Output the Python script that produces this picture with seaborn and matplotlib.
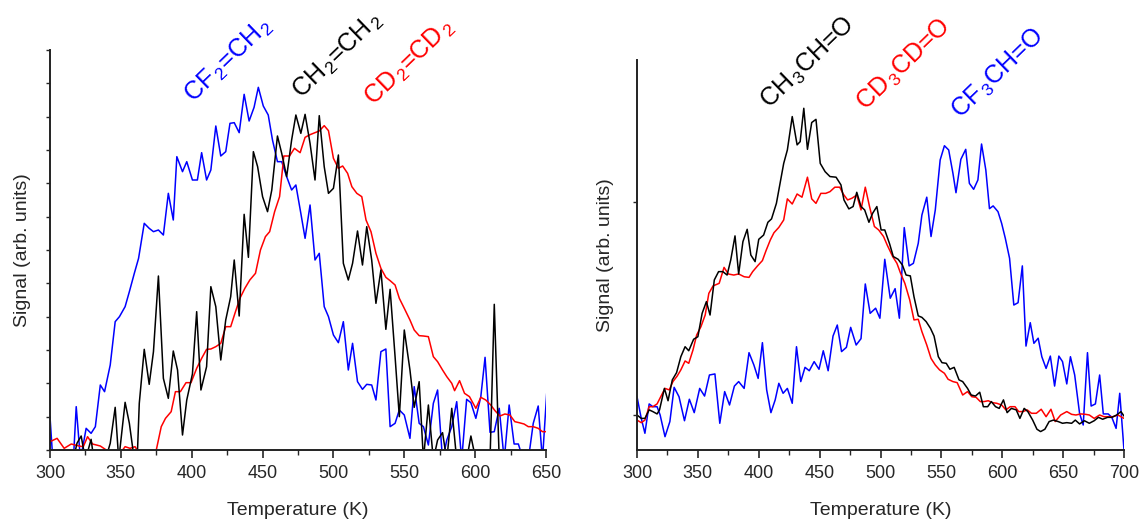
import numpy as np
import pandas as pd
import matplotlib
matplotlib.use("Agg")
import matplotlib.pyplot as plt
from matplotlib.ticker import MultipleLocator
import seaborn as sns

# ---------------- Left panel data ----------------
t_cf2 = [300, 302, 316.5, 318.5, 321.5, 325.5, 329, 332, 335.5, 338.5, 342.5, 346, 349, 353, 356, 359.5,
         362.5, 366.5, 370, 373, 376.5, 380, 383.5, 387, 389.5, 393.5, 396.5, 400.5, 404, 407, 410.5, 413.5,
         417, 420.5, 424, 427, 430, 433.5, 437, 440.5, 444, 447, 450.5, 454, 457, 460.5, 463.5, 467, 470.5,
         473.5, 477, 480, 483.5, 487, 490, 493.5, 496.5, 500, 503.5, 507, 510.5, 513.5, 517, 520.5, 523.5,
         527, 530, 533.5, 537, 540, 543.5, 546.5, 550, 554, 557, 560.5, 563.5, 567, 570.5, 573.5, 577, 580,
         583.5, 587, 590.5, 594, 597, 600.5, 604, 607, 610.5, 613.5, 617, 620.5, 624, 627.5, 630.5, 634,
         637.5, 641, 644.5, 647.5, 650.5]
s_cf2 = [1.0, -0.3, -0.3, 1.3, -0.3, 0.65, 0.5, 0.7, 1.95, 1.75, 2.55, 3.85, 4.0, 4.3, 4.75, 5.3,
         5.75, 6.8, 6.65, 6.55, 6.6, 6.45, 7.7, 6.9, 8.8, 8.35, 8.65, 8.1, 8.1, 8.92, 8.1, 8.4,
         9.72, 8.82, 8.95, 9.8, 9.82, 9.52, 10.67, 9.87, 10.28, 10.88, 10.32, 10.05, 9.3, 8.65, 8.65, 8.2, 7.8,
         7.95, 7.1, 6.35, 7.35, 5.7, 5.9, 4.3, 4.0, 3.45, 3.22, 3.85, 2.4, 3.2, 2.05, 1.82, 1.97,
         1.95, 1.5, 2.95, 3.03, 0.7, 0.8, 1.2, 1.05, 0.35, 1.9, 0.8, 0.7, 0.15, 1.4, 1.8, -0.3, 0.3,
         0.7, 1.45, -0.3, 1.52, 1.42, 0.95, 1.6, 2.78, 0.53, 0.55, 1.25, -0.3, 1.35, 0.18, 0.18, -0.3,
         -0.3, 0.8, 1.32, -0.3, 1.7]

t_ch2 = [300, 310, 316.5, 319, 322, 325, 329, 331, 335.5, 339, 342.5, 346, 348.5, 353, 356, 359.5, 361.5,
         363, 366.5, 370, 373, 376.5, 380, 383.5, 387, 390, 393.5, 396.5, 400.5, 403.5, 406.5, 410.5, 413.5,
         417, 420.5, 424, 427.5, 430, 433.5, 437, 440, 443.5, 446.5, 450, 453.5, 456.5, 460.5, 463.5, 467,
         470.5, 473.5, 477, 480, 483.5, 487, 490, 493.5, 496.5, 500, 503.5, 507, 510.5, 513.5, 517, 520.5,
         523.5, 527, 530, 533.5, 537, 540, 543.5, 546.5, 550, 554, 557, 560.5, 563.5, 567, 570.5, 573.5,
         577, 580, 583.5, 587, 590.5, 594, 597, 600.5, 604, 607, 610.5, 613.5, 617, 620.5, 630, 640, 650.5]
s_ch2 = [-0.3, -0.3, -0.3, 0.2, 0.42, -0.3, 0.32, -0.3, -0.3, -0.3, 0.2, 1.28, -0.3, 1.43, 0.8, -0.3, -0.3,
         1.4, 3.02, 1.97, 2.95, 5.22, 2.15, 1.55, 2.97, 2.4, 0.45, 1.5, 2.28, 4.15, 1.8, 2.5, 4.9,
         4.3, 2.7, 3.9, 4.6, 5.7, 4.02, 7.07, 5.78, 8.95, 8.5, 7.6, 7.15, 7.8, 9.42, 8.9, 8.2,
         9.3, 10.05, 9.5, 10.07, 9.2, 8.1, 10.03, 8.5, 7.7, 7.85, 8.85, 5.6, 5.1, 5.6, 6.57, 5.55,
         6.7, 5.7, 4.4, 5.4, 3.62, 4.82, 2.8, 1.0, 3.6, 2.4, 1.28, 2.05, -0.3, 1.35, -0.3, 0.3,
         0.52, -0.3, 1.25, -0.3, -0.3, -0.3, 0.42, -0.3, -0.3, -0.3, -0.3, 4.37, -0.3, -0.3, -0.3, -0.3, -0.3]

t_cd2 = [300, 305, 310, 315, 320.5, 323.5, 326.5, 330, 335.5, 339, 342.5, 349.5, 353, 356.5, 360, 363,
         374.5, 378.5, 381.5, 385.5, 388.5, 392, 396, 399.5, 403.5, 407, 410.5, 413.5, 417, 420.5, 424,
         427.5, 430.5, 434, 437.5, 441, 445, 448.5, 452, 455, 458.5, 462, 463.5, 465, 469, 472.5, 476.5,
         480, 483.5, 487, 490, 493.5, 496.5, 500, 503.5, 506.5, 510, 513, 516.5, 520, 523, 526.5, 530,
         533.5, 537, 540, 543.5, 546.5, 550, 554, 557, 560.5, 563.5, 567, 570.5, 573.5, 577, 580, 583.5,
         585.5, 589, 592.5, 596, 600.5, 604, 607.5, 611, 614, 617.5, 621, 624.5, 628, 631, 634.5, 637.5,
         641, 644.5, 647.5, 650.5]
s_cd2 = [0.25, 0.35, 0.05, 0.18, 0.12, 0.1, 0.4, 0.18, 0.12, 0.02, -0.1, -0.1, 0.1, 0.05, 0.1, -0.1,
         -0.1, 0.7, 0.95, 1.15, 1.75, 1.75, 2.02, 2.02, 2.45, 2.75, 3.02, 3.03, 3.1, 3.2, 3.7,
         3.7, 4.1, 4.55, 4.85, 5.1, 5.3, 6.0, 6.4, 6.55, 7.15, 7.6, 8.2, 8.82, 8.82, 9.05, 8.92,
         9.38, 9.46, 9.52, 9.57, 9.73, 9.58, 8.75, 8.45, 8.52, 8.3, 7.9, 7.7, 7.6, 6.9, 6.55, 5.9,
         5.45, 5.18, 5.08, 4.95, 4.55, 4.25, 3.9, 3.6, 3.43, 3.42, 3.4, 2.8, 2.65, 2.4, 2.2, 2.0,
         1.78, 2.08, 1.7, 1.6, 1.25, 1.58, 1.5, 1.35, 1.18, 1.02, 1.08, 1.05, 0.85, 0.82, 0.78, 0.7,
         0.7, 0.65, 0.55, 0.55]

# ---------------- Right panel data ----------------
t_ch3 = [300, 303.5, 306.5, 310, 313, 316.5, 318.5, 322.5, 325.5, 329, 332.5, 336, 339.5, 342.5, 346.5,
         350, 353.5, 357, 360, 363.5, 367, 370.5, 374, 377, 380.5, 383.5, 387, 390.5, 393.5, 397, 400,
         404, 407.5, 410.5, 414.5, 417.5, 420.5, 423.5, 427.5, 431.5, 434, 437, 440, 443.5, 447, 450.5,
         454.5, 458.5, 463.5, 467.5, 470, 474, 477.5, 480.5, 484, 487, 490.5, 493.5, 497, 500.5, 503.5,
         507.5, 510.5, 514.5, 518, 521, 524.5, 527.5, 531, 534, 537.5, 541, 544, 547.5, 550.5, 554, 557,
         560.5, 564.5, 567.5, 571.5, 574.5, 578, 581.5, 584.5, 588, 591, 594.5, 597.5, 601, 604, 607.5,
         611.5, 614.5, 618, 621, 625, 628.5, 631.5, 635, 638.5, 642, 646, 649.5, 653, 657, 660, 663.5,
         667.5, 671.5, 675.5, 679, 682.5, 686.5, 690, 694, 697.5, 700]
s_ch3 = [0.0, -0.016, -0.016, 0.024, 0.016, 0.005, 0.024, 0.125, 0.067, 0.165, 0.199, 0.274, 0.321, 0.302, 0.356,
         0.368, 0.478, 0.533, 0.470, 0.635, 0.674, 0.674, 0.658, 0.729, 0.842, 0.663, 0.815, 0.873, 0.752, 0.721, 0.826,
         0.846, 0.906, 0.922, 0.995, 1.089, 1.183, 1.246, 1.403, 1.270, 1.285, 1.442, 1.249, 1.375, 1.390, 1.183,
         1.144, 1.121, 1.118, 1.082, 1.011, 0.969, 0.980, 1.047, 0.980, 0.964, 0.906, 0.948, 0.980, 0.870, 0.870,
         0.804, 0.745, 0.732, 0.705, 0.658, 0.654, 0.556, 0.466, 0.459, 0.439, 0.408, 0.371, 0.274, 0.246, 0.243, 0.215,
         0.224, 0.165, 0.157, 0.125, 0.094, 0.089, 0.107, 0.039, 0.039, 0.063, 0.039, 0.031, 0.071, 0.011, 0.031,
         0.024, -0.016, 0.031, 0.016, -0.024, -0.067, -0.078, -0.067, -0.031, -0.024, -0.031, -0.039, -0.036, -0.039, -0.024, -0.042,
         -0.027, -0.039, -0.027, -0.011, -0.020, -0.011, -0.011, 0.0, 0.016, -0.005]

t_cd3 = [300, 303.5, 306.5, 310, 313, 316.5, 319.5, 323, 326.5, 329.5, 333, 336, 339.5, 342.5, 346,
         349, 352.5, 356, 359, 362.5, 367.5, 371.5, 375, 379.5, 383.5, 388, 392, 395, 399, 403, 406,
         409.5, 412.5, 416.5, 420.5, 423.5, 427.5, 431.5, 435.5, 440, 443.5, 447, 451, 455, 458.5, 462.5,
         466.5, 469.5, 473, 476.5, 480.5, 484, 487.5, 491, 495, 498.5, 502.5, 505.5, 510, 513.5, 516.5,
         520, 524, 527.5, 531, 534, 538, 541.5, 545, 548.5, 552.5, 555.5, 559.5, 563, 567.5, 571.5, 575,
         578.5, 582, 585, 588.5, 592, 595.5, 599.5, 603, 606.5, 610.5, 613.5, 617, 620.5, 624, 628, 632,
         636, 640, 643.5, 648, 653, 657, 660.5, 664.5, 668.5, 671.5, 675.5, 680, 683.5, 687.5, 691, 695, 700]
s_cd3 = [-0.024, -0.036, -0.024, 0.039, 0.039, 0.052, 0.086, 0.125, 0.118, 0.157, 0.183, 0.212, 0.254, 0.243, 0.306,
         0.376, 0.415, 0.470, 0.572, 0.607, 0.619, 0.694, 0.663, 0.658, 0.663, 0.650, 0.647, 0.674, 0.701, 0.726, 0.773,
         0.823, 0.857, 0.882, 0.917, 1.016, 0.992, 1.039, 1.024, 1.118, 1.016, 0.995, 1.042, 1.042, 1.050, 1.071,
         1.071, 1.038, 1.011, 1.019, 1.034, 0.964, 1.071, 0.980, 0.886, 0.870, 0.839, 0.799, 0.745, 0.713, 0.666,
         0.619, 0.541, 0.447, 0.450, 0.392, 0.329, 0.266, 0.235, 0.212, 0.196, 0.168, 0.157, 0.152, 0.094, 0.110, 0.086,
         0.083, 0.063, 0.063, 0.067, 0.058, 0.055, 0.047, 0.024, 0.039, 0.039, 0.016, 0.016, 0.024, 0.008, 0.008, 0.027,
         -0.008, 0.027, -0.031, 0.0, 0.016, 0.003, 0.0, 0.005, 0.003, 0.0, -0.016, 0.0, -0.008, -0.008, -0.008, 0.0, -0.016]

t_cf3 = [300, 303.5, 306.5, 310, 313, 316.5, 319, 323, 327, 330.5, 334.5, 339, 343, 347, 351.5,
         355.5, 359.5, 364, 368, 372, 376, 380, 383.5, 388, 392, 396, 399.5, 403, 406.5, 410, 413.5,
         416.5, 420, 423.5, 427.5, 431, 434.5, 438, 441.5, 445.5, 449.5, 453, 457, 461, 464.5, 468,
         472, 475.5, 480, 484, 487.5, 491.5, 496, 499.5, 503.5, 508, 512, 515.5, 519.5, 523.5, 527, 531,
         534, 538, 541.5, 545, 549, 552.5, 556, 559.5, 562, 566, 570, 573, 576.5, 580, 583, 586.5, 589.5,
         592.5, 596.5, 599.5, 602.5, 606, 609.5, 613, 616.5, 619.5, 623, 626, 629.5, 632.5, 636, 639.5,
         643, 646.5, 649.5, 653, 656, 659.5, 663.5, 666.5, 670, 673, 676.5, 680, 683, 687, 690, 693.5, 696.5, 700]
s_cf3 = [0.086, -0.016, -0.086, 0.052, 0.039, 0.039, 0.0, -0.102, -0.031, 0.130, 0.086, -0.027, 0.074, 0.011, 0.125,
         0.089, 0.188, 0.193, -0.039, 0.110, 0.047, 0.136, 0.157, 0.125, 0.293, 0.235, 0.172, 0.340, 0.118, 0.011, 0.071,
         0.149, 0.102, 0.125, 0.055, 0.321, 0.157, 0.224, 0.208, 0.251, 0.215, 0.302, 0.208, 0.371, 0.423, 0.298,
         0.318, 0.412, 0.329, 0.359, 0.616, 0.478, 0.502, 0.455, 0.732, 0.549, 0.594, 0.455, 0.881, 0.701, 0.713, 0.807,
         0.940, 1.024, 0.839, 0.964, 1.199, 1.266, 1.246, 1.136, 1.045, 1.202, 1.249, 1.089, 1.061, 1.105, 1.274, 1.152, 0.97,
         0.983, 0.956, 0.901, 0.831, 0.737, 0.517, 0.528, 0.701, 0.324, 0.434, 0.337, 0.361, 0.274, 0.219, 0.277,
         0.136, 0.277, 0.251, 0.146, 0.274, 0.188, 0.008, -0.047, 0.293, 0.042, 0.052, 0.188, 0.005, 0.005, -0.011, -0.063, 0.102, -0.165]

x_major_left = [300, 350, 400, 450, 500, 550, 600, 650]
x_major_right = [300, 350, 400, 450, 500, 550, 600, 650, 700]

BLUE, RED, BLACK = "#0000ff", "#ff0000", "#000000"

sns.set_style("ticks")
plt.rcParams["font.family"] = ["Liberation Sans", "DejaVu Sans"]
plt.rcParams["mathtext.fontset"] = "custom"
plt.rcParams["mathtext.rm"] = "Liberation Sans"
plt.rcParams["mathtext.it"] = "Liberation Sans"
plt.rcParams["mathtext.default"] = "regular"

fig = plt.figure(figsize=(11.41, 5.25), dpi=100)
W, H = 1141, 525
axL = fig.add_axes([50 / W, 1 - 450 / H, 496 / W, 400 / H])
axR = fig.add_axes([637 / W, 1 - 450 / H, 487 / W, 390 / H])

def draw(ax, t, s, color):
    df = pd.DataFrame({"T": t, "S": s})
    sns.lineplot(data=df, x="T", y="S", ax=ax, color=color, lw=1.1, estimator=None, sort=False)

draw(axL, t_cf2, s_cf2, BLUE)
draw(axL, t_cd2, s_cd2, RED)
draw(axL, t_ch2, s_ch2, BLACK)

draw(axR, t_cf3, s_cf3, BLUE)
draw(axR, t_cd3, s_cd3, RED)
draw(axR, t_ch3, s_ch3, BLACK)

axL.set_xlim(300, 650)
axL.set_ylim(0, 12)
axR.set_xlim(300, 700)
axR.set_ylim(-0.1646, 1.669)

for ax, majors in ((axL, x_major_left), (axR, x_major_right)):
    sns.despine(ax=ax)
    for sp in ("left", "bottom"):
        ax.spines[sp].set_linewidth(1.4)
        ax.spines[sp].set_color("#222222")
    ax.set_xticks(majors)
    ax.set_xticklabels([str(v) for v in majors], fontsize=13)
    ax.xaxis.set_minor_locator(MultipleLocator(25))
    ax.tick_params(axis="x", which="major", length=6, width=1.2, pad=5, direction="out")
    ax.tick_params(axis="x", which="minor", length=3.5, width=1.0, direction="out")
    ax.tick_params(axis="y", which="major", length=3, width=1.0, direction="out", labelleft=False)
    ax.set_xlabel("Temperature (K)", fontsize=14)
    ax.set_ylabel("Signal (arb. units)", fontsize=14)

axL.set_yticks(list(range(0, 13)))
axR.set_yticks([0, 1])

axL.xaxis.set_label_coords(0.5, -0.13)
axR.xaxis.set_label_coords(0.5, -0.133)
axL.yaxis.set_label_coords(-0.038, 0.5)
axR.yaxis.set_label_coords(-0.047, 0.5)

labels = [
    ("CF$_{\\,2}$=CH$_{\\,2}$", BLUE, 229, 60),
    ("CH$_{\\,2}$=CH$_{\\,2}$", BLACK, 338, 55),
    ("CD$_{\\,2}$=CD$_{\\,2}$", RED, 410, 62),
    ("CH$_{\\,3}$CH=O", BLACK, 808, 63),
    ("CD$_{\\,3}$CD=O", RED, 904, 65),
    ("CF$_{\\,3}$CH=O", BLUE, 998, 74),
]
for txt, col, px, py in labels:
    fig.text(px / W, 1 - py / H, txt, color=col, fontsize=18, rotation=44,
             ha="center", va="center", rotation_mode="anchor")

fig.savefig("out.png", dpi=100)
